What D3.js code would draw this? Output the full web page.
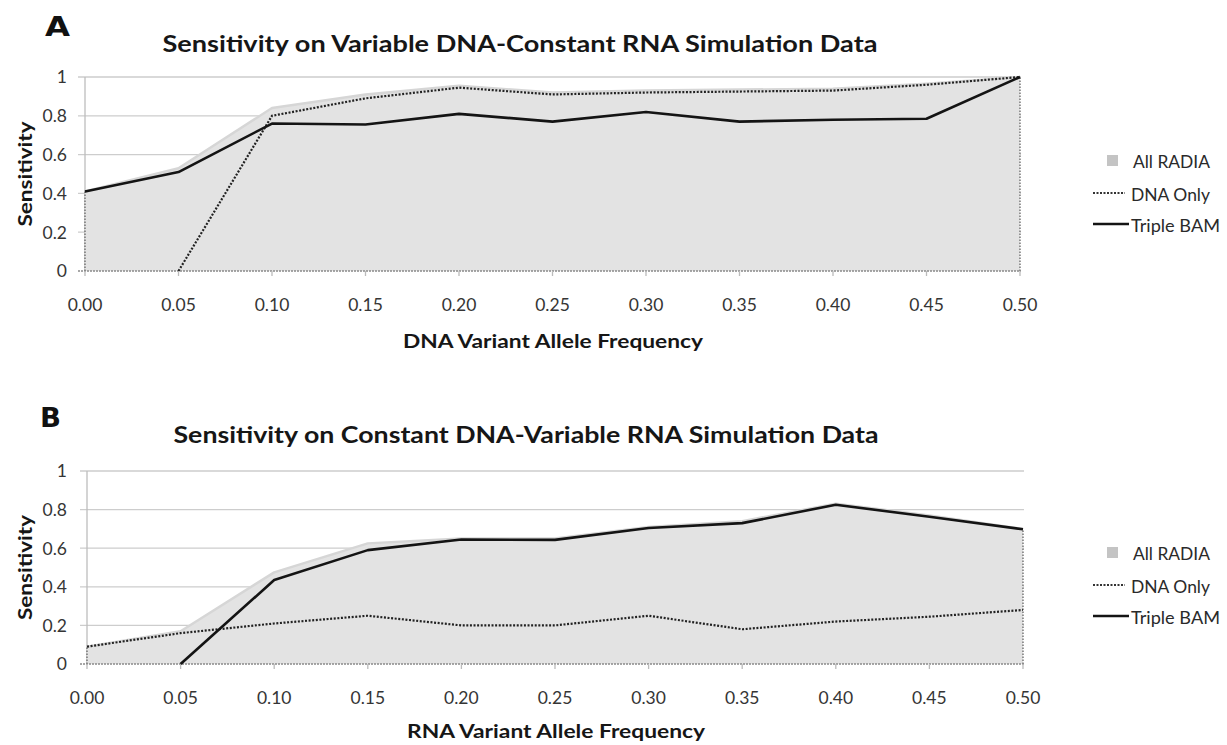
<!DOCTYPE html>
<html>
<head>
<meta charset="utf-8">
<script src="https://d3js.org/d3.v7.min.js"></script>
<style>
  html, body { margin: 0; padding: 0; background: #fff; }
  svg { display: block; }
</style>
</head>
<body>
<svg id="chart" width="1227" height="745"></svg>
<script>
// ---- data ----
const freqLabels = ["0.00","0.05","0.10","0.15","0.20","0.25","0.30","0.35","0.40","0.45","0.50"];
const yTicks = [0, 0.2, 0.4, 0.6, 0.8, 1];
const yTickLabels = ["0", "0.2", "0.4", "0.6", "0.8", "1"];
const seriesNames = ["All RADIA", "DNA Only", "Triple BAM"];

// Panel A: Variable DNA - Constant RNA
const aAllRadia  = [0.41, 0.53, 0.84, 0.91, 0.955, 0.92, 0.93, 0.935, 0.94, 0.965, 1.0];
const aDnaOnly   = [null, 0.00, 0.80, 0.89, 0.945, 0.91, 0.92, 0.925, 0.93, 0.96, 1.0];
const aTripleBam = [0.41, 0.51, 0.76, 0.755, 0.81, 0.77, 0.82, 0.77, 0.78, 0.785, 1.0];

// Panel B: Constant DNA - Variable RNA
const bAllRadia  = [0.09, 0.17, 0.475, 0.625, 0.65, 0.65, 0.71, 0.74, 0.83, 0.77, 0.70];
const bDnaOnly   = [0.09, 0.16, 0.21, 0.25, 0.20, 0.20, 0.25, 0.18, 0.22, 0.245, 0.28];
const bTripleBam = [null, 0.00, 0.435, 0.59, 0.645, 0.643, 0.705, 0.73, 0.825, 0.763, 0.698];

const panels = [
  { letter: "A", title: "Sensitivity on Variable DNA-Constant RNA Simulation Data",
    xTitle: "DNA Variant Allele Frequency",
    all: aAllRadia, dna: aDnaOnly, triple: aTripleBam,
    x0: 85, x1: 1020, yTop: 77, yBot: 271,
    letterPos: [45, 36, 25], titleX: 520, titleY: 52, titleW: 715,
    xTitleX: 553, xTitleY: 348, xTitleW: 300,
    legendY: 161 },
  { letter: "B", title: "Sensitivity on Constant DNA-Variable RNA Simulation Data",
    xTitle: "RNA Variant Allele Frequency",
    all: bAllRadia, dna: bDnaOnly, triple: bTripleBam,
    x0: 87, x1: 1023, yTop: 471, yBot: 664,
    letterPos: [40, 427, 21], titleX: 526, titleY: 443, titleW: 705,
    xTitleX: 556, xTitleY: 738, xTitleW: 298,
    legendY: 553 }
];

const svg = d3.select("#chart");
const FONT = "Lato, 'Open Sans', sans-serif";

panels.forEach(p => {
  const g = svg.append("g");
  const x = d3.scalePoint().domain(freqLabels).range([p.x0, p.x1]);
  const y = d3.scaleLinear().domain([0, 1]).range([p.yBot, p.yTop]);

  // panel letter
  g.append("text")
    .attr("x", p.letterPos[0]).attr("y", p.letterPos[1])
    .attr("font-family", "'DejaVu Sans', sans-serif")
    .attr("font-weight", 900)
    .attr("font-size", 26)
    .attr("textLength", p.letterPos[2])
    .attr("lengthAdjust", "spacingAndGlyphs")
    .attr("fill", "#111")
    .text(p.letter);

  // title
  g.append("text")
    .attr("x", p.titleX).attr("y", p.titleY)
    .attr("text-anchor", "middle")
    .attr("font-family", FONT).attr("font-weight", 700)
    .attr("font-size", 22)
    .attr("textLength", p.titleW).attr("lengthAdjust", "spacingAndGlyphs")
    .attr("fill", "#161616")
    .text(p.title);

  // gridlines
  g.append("g").selectAll("line")
    .data(yTicks.filter(t => t > 0))
    .join("line")
    .attr("x1", p.x0 - 7).attr("x2", p.x1 + 1)
    .attr("y1", d => y(d)).attr("y2", d => y(d))
    .attr("stroke", "#cdcdcd").attr("stroke-width", 1.3);

  // y axis line
  g.append("line")
    .attr("x1", p.x0).attr("x2", p.x0)
    .attr("y1", y(1)).attr("y2", y(0))
    .attr("stroke", "#bdbdbd").attr("stroke-width", 1.3);

  // area (All RADIA)
  const area = d3.area()
    .x((d, i) => x(freqLabels[i]))
    .y0(y(0))
    .y1(d => y(d));
  g.append("path")
    .datum(p.all)
    .attr("d", area)
    .attr("fill", "#e3e3e3");
  const areaTop = d3.line()
    .x((d, i) => x(freqLabels[i]))
    .y(d => y(d));
  g.append("path")
    .datum(p.all)
    .attr("d", areaTop)
    .attr("fill", "none")
    .attr("stroke", "#d6d6d6").attr("stroke-width", 2.5)
    .attr("stroke-linejoin", "round");
  // dotted area edges
  [0, p.all.length - 1].forEach(i => {
    g.append("line")
      .attr("x1", x(freqLabels[i])).attr("x2", x(freqLabels[i]))
      .attr("y1", y(0)).attr("y2", y(p.all[i]))
      .attr("stroke", "#666").attr("stroke-width", 1.3)
      .attr("stroke-dasharray", "1.5,1.5");
  });

  // x axis baseline and ticks
  g.append("line")
    .attr("x1", p.x0 - 7).attr("x2", p.x1 + 1)
    .attr("y1", y(0)).attr("y2", y(0))
    .attr("stroke", "#8a8a8a").attr("stroke-width", 1.4)
    .attr("stroke-dasharray", "2,1");
  g.append("g").selectAll("line")
    .data(freqLabels)
    .join("line")
    .attr("x1", d => x(d)).attr("x2", d => x(d))
    .attr("y1", y(0)).attr("y2", y(0) + 5)
    .attr("stroke", "#bbbbbb").attr("stroke-width", 1.3);

  // DNA Only
  const line = d3.line()
    .defined(d => d !== null)
    .x((d, i) => x(freqLabels[i]))
    .y(d => y(d));
  g.append("path")
    .datum(p.dna)
    .attr("d", line)
    .attr("fill", "none")
    .attr("stroke", "#222").attr("stroke-width", 2.2)
    .attr("stroke-dasharray", "2,1.6");

  // Triple BAM
  g.append("path")
    .datum(p.triple)
    .attr("d", line)
    .attr("fill", "none")
    .attr("stroke", "#141414").attr("stroke-width", 2.6)
    .attr("stroke-linejoin", "round");

  // y tick labels
  g.append("g").selectAll("text")
    .data(yTicks)
    .join("text")
    .attr("x", 67).attr("y", d => y(d))
    .attr("dy", "0.36em")
    .attr("text-anchor", "end")
    .attr("font-family", FONT).attr("font-size", 17.5)
    .attr("fill", "#353535")
    .text((d, i) => yTickLabels[i]);

  // x tick labels
  g.append("g").selectAll("text")
    .data(freqLabels)
    .join("text")
    .attr("x", d => x(d)).attr("y", y(0) + 40)
    .attr("text-anchor", "middle")
    .attr("font-family", FONT).attr("font-size", 17.5)
    .attr("fill", "#353535")
    .text(d => d);

  // x axis title
  g.append("text")
    .attr("x", p.xTitleX).attr("y", p.xTitleY)
    .attr("text-anchor", "middle")
    .attr("font-family", FONT).attr("font-weight", 700)
    .attr("font-size", 19.5)
    .attr("textLength", p.xTitleW).attr("lengthAdjust", "spacingAndGlyphs")
    .attr("fill", "#161616")
    .text(p.xTitle);

  // y axis title
  const yc = (y(0) + y(1)) / 2;
  g.append("text")
    .attr("transform", `translate(32,${yc}) rotate(-90)`)
    .attr("text-anchor", "middle")
    .attr("font-family", FONT).attr("font-weight", 700)
    .attr("font-size", 19.5)
    .attr("textLength", 105).attr("lengthAdjust", "spacingAndGlyphs")
    .attr("fill", "#161616")
    .text("Sensitivity");

  // legend
  const lg = g.append("g");
  const ly = p.legendY;
  lg.append("rect")
    .attr("x", 1107).attr("y", ly - 6).attr("width", 11).attr("height", 11)
    .attr("fill", "#c4c4c4");
  lg.append("line")
    .attr("x1", 1093).attr("x2", 1125).attr("y1", ly + 32).attr("y2", ly + 32)
    .attr("stroke", "#333").attr("stroke-width", 1.8).attr("stroke-dasharray", "2,1.5");
  lg.append("line")
    .attr("x1", 1093).attr("x2", 1129).attr("y1", ly + 63).attr("y2", ly + 63)
    .attr("stroke", "#141414").attr("stroke-width", 2.6);
  const legendText = [
    { t: seriesNames[0], x: 1133, y: ly + 7, w: 77 },
    { t: seriesNames[1], x: 1131, y: ly + 40, w: 79 },
    { t: seriesNames[2], x: 1131, y: ly + 71, w: 89 }
  ];
  lg.selectAll("text.leg")
    .data(legendText)
    .join("text")
    .attr("class", "leg")
    .attr("x", d => d.x).attr("y", d => d.y)
    .attr("font-family", FONT).attr("font-size", 17)
    .attr("textLength", d => d.w).attr("lengthAdjust", "spacingAndGlyphs")
    .attr("fill", "#2a2a2a")
    .text(d => d.t);
});
</script>
</body>
</html>
